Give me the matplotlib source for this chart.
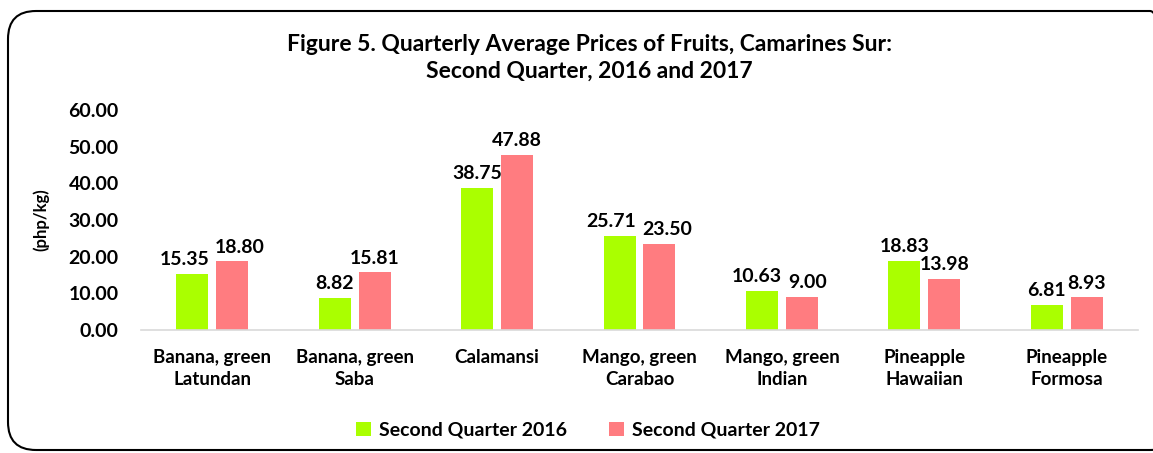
import numpy as np
import matplotlib
matplotlib.use("Agg")
import matplotlib.pyplot as plt
from matplotlib.patches import FancyBboxPatch

plt.rcParams['font.family'] = ['Lato', 'DejaVu Sans']
plt.rcParams['font.weight'] = 'bold'

categories = ["Banana, green\nLatundan", "Banana, green\nSaba", "Calamansi",
              "Mango, green\nCarabao", "Mango, green\nIndian",
              "Pineapple\nHawaiian", "Pineapple\nFormosa"]
q2_2016 = [15.35, 8.82, 38.75, 25.71, 10.63, 18.83, 6.81]
q2_2017 = [18.80, 15.81, 47.88, 23.50, 9.00, 13.98, 8.93]
yticks = [0, 10, 20, 30, 40, 50, 60]

fig = plt.figure(figsize=(11.53, 4.53), dpi=100)
ax = fig.add_axes([0.1223, 0.2715, 0.8647, 0.4855])

x = np.arange(len(categories))
w = 0.225
b1 = ax.bar(x - 0.14, q2_2016, w, color="#AAFF00", label="Second Quarter 2016")
b2 = ax.bar(x + 0.14, q2_2017, w, color="#FF7C80", label="Second Quarter 2017")

labels = []
for bars, vals in ((b1, q2_2016), (b2, q2_2017)):
    row = []
    for r, v in zip(bars, vals):
        t = ax.annotate("%.2f" % v, (r.get_x() + r.get_width() / 2, v),
                        xytext=(0, 4), textcoords="offset points",
                        ha="center", va="bottom", fontsize=14, fontweight="bold")
        row.append(t)
    labels.append(row)

ax.set_xlim(-0.5, len(categories) - 0.5)
ax.set_ylim(0, 60)
ax.set_yticks(yticks)
ax.set_yticklabels(["%.2f" % t for t in yticks], fontsize=14, fontweight="bold")
ax.set_xticks(x)
ax.set_xticklabels(categories, fontsize=13.5, fontweight="bold", linespacing=1.35)
ax.tick_params(axis="both", length=0)
ax.tick_params(axis="x", pad=14)
ax.tick_params(axis="y", pad=16)
for s in ["top", "right", "left"]:
    ax.spines[s].set_visible(False)
ax.spines["bottom"].set_color("#D9D9D9")
ax.spines["bottom"].set_linewidth(1.2)

# push apart data labels that collide (like excel does)
fig.canvas.draw()
rend = fig.canvas.get_renderer()
for ta, tb in zip(labels[0], labels[1]):
    ba = ta.get_window_extent(rend)
    bb = tb.get_window_extent(rend)
    if ba.overlaps(bb):
        dx = (ba.x1 - bb.x0) / 2 + 3
        ta.set_position((-dx * 72 / 100, 4))
        tb.set_position((dx * 72 / 100, 4))

fig.text(0.036, 0.515, "(php/kg)", rotation=90, ha="center", va="center",
         fontsize=12, fontweight="bold")
fig.text(0.511, 0.873, "Figure 5. Quarterly Average Prices of Fruits, Camarines Sur:\nSecond Quarter, 2016 and 2017",
         ha="center", va="center", fontsize=16.5, fontweight="bold", linespacing=1.35)

fig.legend(loc="center", bbox_to_anchor=(0.51, 0.05), ncol=2, frameon=False,
           fontsize=14, handlelength=0.75, handleheight=0.75, columnspacing=2.2,
           handletextpad=0.4)

frame = FancyBboxPatch((8, 3), 1170, 439, boxstyle="round,pad=0,rounding_size=28",
                       transform=None, fill=False, edgecolor="black", linewidth=1.5)
fig.patches.append(frame)

plt.savefig("out.png", dpi=100)
